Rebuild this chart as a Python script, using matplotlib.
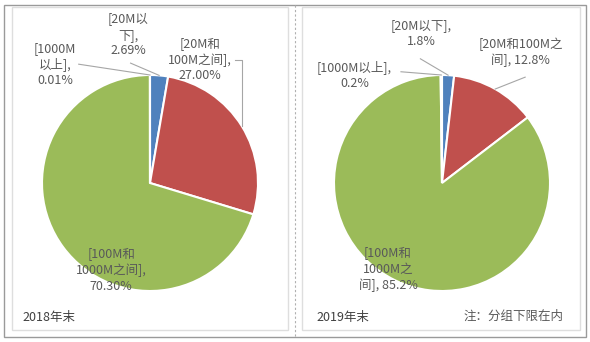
import numpy as np
import matplotlib
matplotlib.use("Agg")
import matplotlib.pyplot as plt
from matplotlib.patches import Rectangle
from matplotlib.lines import Line2D

plt.rcParams['font.family'] = ['Noto Sans CJK SC', 'DejaVu Sans']

# data
categories = ["20M以下", "20M和100M之间", "100M和1000M之间", "1000M以上"]
share_2018 = [2.69, 27.00, 70.30, 0.01]
share_2019 = [1.8, 12.8, 85.2, 0.2]
labels_2018 = ["[20M以\n下],\n2.69%", "[20M和\n100M之间],\n27.00%",
               "[100M和\n1000M之间],\n70.30%", "[1000M\n以上],\n0.01%"]
labels_2019 = ["[20M以下],\n1.8%", "[20M和100M之\n间], 12.8%",
               "[100M和\n1000M之\n间], 85.2%", "[1000M以上],\n0.2%"]
panel_titles = ["2018年末", "2019年末"]
note = "注：分组下限在内"

colors = ["#4F81BD", "#C0504D", "#9BBB59", "#8064A2"]
txt_color = "#595959"
line_color = "#A6A6A6"

W, H = 590, 342
fig = plt.figure(figsize=(W / 100, H / 100), dpi=100)


def px(x, y):
    # pixel (from top-left) -> figure fraction
    return x / W, 1 - y / H


def edge_point(vals, i, r=1.0):
    start = 90 - sum(vals[:i]) * 3.6
    mid = np.deg2rad(start - vals[i] * 1.8)
    return r * np.cos(mid), r * np.sin(mid)


# frames
fig.add_artist(Rectangle(px(4, 337), 582 / W, 332 / H, transform=fig.transFigure,
                         fill=False, ec="#9a9a9a", lw=1.0))
fig.add_artist(Rectangle(px(12, 330), 276 / W, 323 / H, transform=fig.transFigure,
                         fill=False, ec="#dedede", lw=1.0))
fig.add_artist(Rectangle(px(302, 330), 278 / W, 323 / H, transform=fig.transFigure,
                         fill=False, ec="#dedede", lw=1.0))
fig.add_artist(Line2D([295 / W, 295 / W], [1 - 5 / H, 1 - 337 / H], transform=fig.transFigure,
                      color="#b0b0b0", lw=0.8, ls=(0, (2, 2))))

R = 108
centers = [(150, 183), (442, 183)]


def make_pie(cx, cy, vals):
    ax = fig.add_axes([(cx - R) / W, (H - cy - R) / H, 2 * R / W, 2 * R / H])
    ax.pie(vals, colors=colors, startangle=90, counterclock=False, radius=1.0,
           wedgeprops=dict(edgecolor="white", linewidth=1.5))
    ax.set_xlim(-1, 1)
    ax.set_ylim(-1, 1)
    ax.set_aspect("equal")
    ax.axis("off")
    return ax


fs = 9
kw = dict(fontsize=fs, color=txt_color, ha="center", va="center", linespacing=1.25)

# 2018
ax1 = make_pie(*centers[0], share_2018)
ax1.text(-0.20, 1.37, labels_2018[0], clip_on=False, **kw)
ex, ey = edge_point(share_2018, 0)
ax1.plot([-0.18, ex], [1.11, ey], color=line_color, lw=0.8, clip_on=False)
ax1.text(0.46, 1.14, labels_2018[1], clip_on=False, **kw)
ex, ey = edge_point(share_2018, 1)
ax1.plot([0.79, ex, ex], [1.14, 1.14, ey], color=line_color, lw=0.8, clip_on=False)
ax1.text(-0.36, -0.81, labels_2018[2], clip_on=False, **kw)
ax1.text(-0.88, 1.10, labels_2018[3], clip_on=False, **kw)
ex, ey = edge_point(share_2018, 3)
ax1.plot([-0.66, ex], [1.10, ey], color=line_color, lw=0.8, clip_on=False)

# 2019
ax2 = make_pie(*centers[1], share_2019)
ax2.text(-0.19, 1.38, labels_2019[0], clip_on=False, **kw)
ex, ey = edge_point(share_2019, 0)
ax2.plot([-0.20, ex], [1.15, ey], color=line_color, lw=0.8, clip_on=False)
ax2.text(0.73, 1.21, labels_2019[1], clip_on=False, **kw)
ex, ey = edge_point(share_2019, 1)
ax2.plot([0.77, ex], [0.98, ey], color=line_color, lw=0.8, clip_on=False)
ax2.text(-0.50, -0.80, labels_2019[2], clip_on=False, **kw)
ax2.text(-0.81, 1.00, labels_2019[3], clip_on=False, **kw)
ex, ey = edge_point(share_2019, 3)
ax2.plot([-0.38, ex], [1.03, ey], color=line_color, lw=0.8, clip_on=False)

# panel captions
fig.text(*px(22, 318), panel_titles[0], fontsize=9, color="#404040", va="center", ha="left")
fig.text(*px(316, 318), panel_titles[1], fontsize=9, color="#404040", va="center", ha="left")
fig.text(*px(564, 316), note, fontsize=9, color=txt_color, va="center", ha="right")

fig.savefig("out.png", dpi=100)
